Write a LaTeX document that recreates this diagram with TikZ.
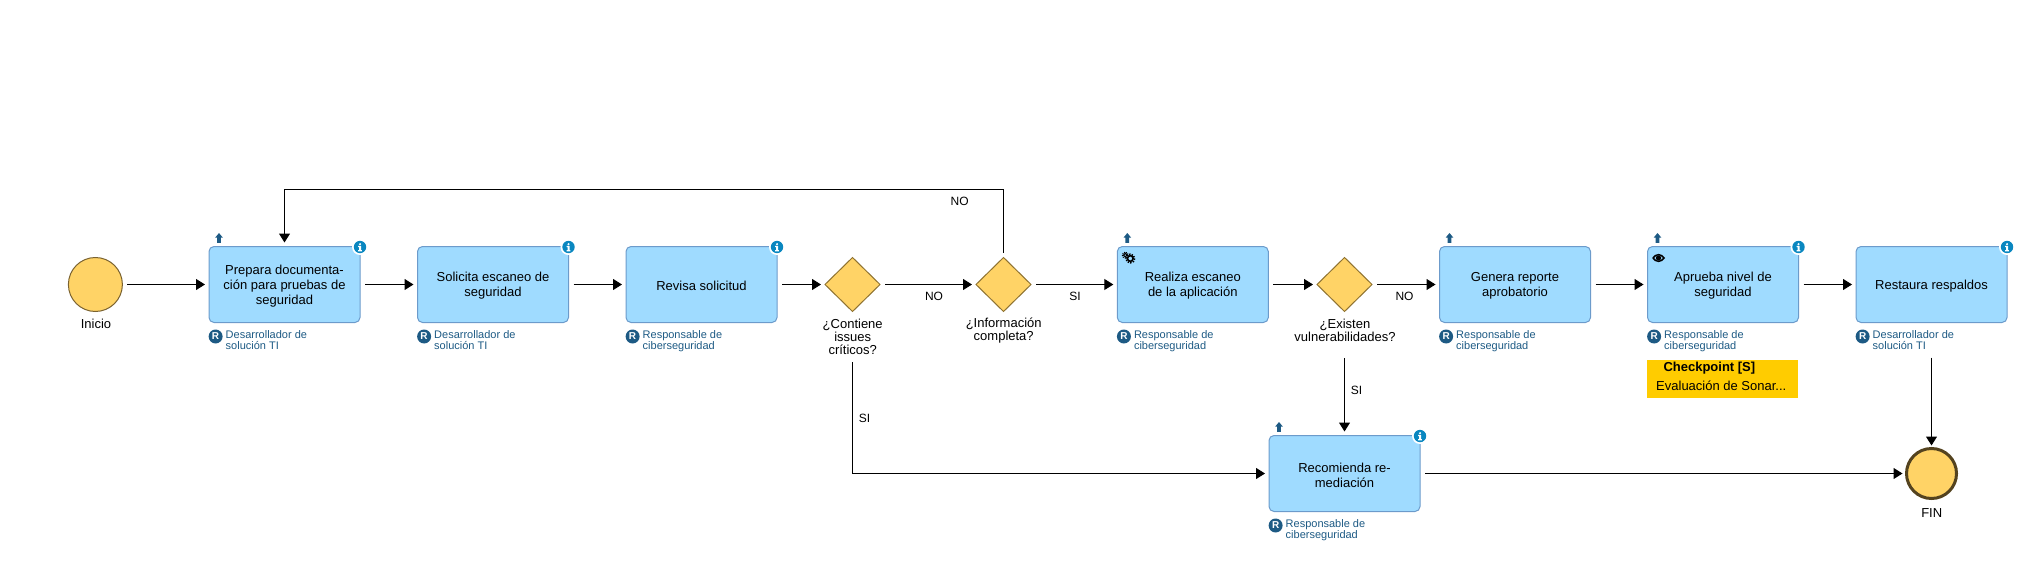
\documentclass[tikz,border=0pt]{standalone}
\usepackage{fontspec}
\setmainfont{Liberation Sans}
\usetikzlibrary{arrows.meta,shapes.geometric,calc}
\definecolor{taskfill}{HTML}{9FDBFF}
\definecolor{taskline}{HTML}{6C9BCB}
\definecolor{evfill}{HTML}{FFD366}
\definecolor{evline}{HTML}{7A6230}
\definecolor{endline}{HTML}{54431F}
\definecolor{gwline}{HTML}{8F7230}
\definecolor{rolecol}{HTML}{1D5A84}
\definecolor{infocol}{HTML}{0A87C0}
\definecolor{cpfill}{HTML}{FFCC00}
\tikzset{
  task/.style={draw=taskline,fill=taskfill,line width=1pt,rounded corners=5pt,minimum width=151pt,minimum height=76pt,inner sep=0pt,outer sep=0pt,
    label={[tasktext]center:#1}},
  tasktext/.style={align=center,inner sep=0pt,yshift=-1.4pt,font=\fontsize{13}{15}\selectfont,text=black},
  gateway/.style={diamond,draw=gwline,fill=evfill,line width=1pt,minimum width=55pt,minimum height=54pt,aspect=1,inner sep=0pt,outer sep=0pt},
  startev/.style={circle,draw=evline,fill=evfill,line width=1pt,minimum size=54pt,inner sep=0pt,outer sep=0pt},
  endev/.style={circle,draw=endline,fill=evfill,line width=3pt,minimum size=50pt,inner sep=0pt,outer sep=0pt},
  caption/.style={align=center,inner sep=0pt,font=\fontsize{13}{13}\selectfont,text=black},
  flowlabel/.style={inner sep=0pt,font=\fontsize{12}{14}\selectfont,text=black},
  rolelabel/.style={anchor=north west,align=left,inner sep=0pt,font=\fontsize{11}{11}\selectfont,text=rolecol},
  flow/.style={draw=black,line width=1pt,-{Triangle[length=9pt,width=11pt]},shorten >=4pt,shorten <=5pt},
  cptitle/.style={anchor=west,inner sep=0pt,font=\fontsize{13}{15}\bfseries\selectfont,text=black},
  cptext/.style={anchor=west,inner sep=0pt,font=\fontsize{13}{15}\selectfont,text=black}
}
\newcommand{\RoleOf}[2]{%
  \fill[rolecol] ($(#1.south west)+(6.6,14)$) circle (7);
  \node[inner sep=0pt,text=white,font=\fontsize{10}{10}\bfseries\selectfont] at ($(#1.south west)+(6.6,14)$) {R};
  \node[rolelabel] at ($(#1.south west)+(16.5,8)$) {#2};
}
\newcommand{\InfoOf}[1]{%
  \fill[white] ($(#1.north east)+(0,0.5)$) circle (8);
  \fill[infocol] ($(#1.north east)+(0,0.5)$) circle (6.2);
  \fill[white] ($(#1.north east)+(0,-2.3)$) circle (1.2);
  \fill[white] ($(#1.north east)+(-1.8,-0.6)$) -- ++(2.9,0) -- ++(0,4.2) -- ++(0.8,0) -- ++(0,1.2) -- ++(-3.9,0) -- ++(0,-1.2) -- ++(1,0) -- ++(0,-3) -- ++(-0.8,0) -- cycle;
}
\newcommand{\UpOf}[1]{%
  \fill[rolecol] ($(#1.north west)+(10,-13.5)$) -- ++(3.8,4.6) -- ++(-1.9,0) -- ++(0,5.2) -- ++(-3.8,0) -- ++(0,-5.2) -- ++(-1.9,0) -- cycle;
}
\begin{document}
\begin{tikzpicture}[x=1pt,y=-1pt]
\useasboundingbox (0,0) rectangle (2044,572);
% nodes
\node[startev] (start) at (95.4,284.5) {};
\node[caption] (lstart) at (96,323.7) {Inicio};
\node[task={Prepara documenta-\\ción para pruebas de\\seguridad}] (t1) at (284.5,284.5) {};
\node[task={Solicita escaneo de\\seguridad}] (t2) at (493,284.5) {};
\node[task={Revisa solicitud}] (t3) at (701.5,284.5) {};
\node[gateway] (d1) at (852.5,284.5) {};
\node[caption] (ld1) at (852.7,336.8) {¿Contiene\\issues\\críticos?};
\node[gateway] (d2) at (1003.5,284.5) {};
\node[caption] (ld2) at (1003.7,330.2) {¿Información\\completa?};
\node[task={Realiza escaneo\\de la aplicación}] (t4) at (1192.8,284.5) {};
\node[gateway] (d3) at (1344.5,284.5) {};
\node[caption] (ld3) at (1345,330.2) {¿Existen\\vulnerabilidades?};
\node[task={Genera reporte\\aprobatorio}] (t5) at (1515,284.5) {};
\node[task={Aprueba nivel de\\seguridad}] (t6) at (1723,284.5) {};
\node[task={Restaura respaldos}] (t7) at (1931.5,284.5) {};
\node[task={Recomienda re-\\mediación}] (rem) at (1344.5,473.5) {};
\node[endev] (fin) at (1931.5,473.5) {};
\node[caption] (lfin) at (1931.7,513) {FIN};
% connectors
\coordinate (loopR) at (1003.5,189.5);
\coordinate (loopL) at (284.5,189.5);
\draw[flow] (start) -- (t1);
\draw[flow] (t1) -- (t2);
\draw[flow] (t2) -- (t3);
\draw[flow] (t3) -- (d1);
\draw[flow] (d1) -- (d2);
\draw[flow] (d2) -- (t4);
\draw[flow] (t4) -- (d3);
\draw[flow] (d3) -- (t5);
\draw[flow] (t5) -- (t6);
\draw[flow] (t6) -- (t7);
\draw[flow] (d2.north) -- (loopR) -- (loopL) -- (t1.north);
\draw[flow,shorten <=50.5pt] (d1.south) |- (rem.west);
\draw[flow,shorten <=46.5pt] (d3.south) -- (rem.north);
\draw[flow] (rem) -- (fin);
\draw[flow,shorten <=35pt,shorten >=3pt] (t7.south) -- (fin.north);
% flow labels
\node[flowlabel] (nA) at (959.6,201.7) {NO};
\node[flowlabel] (nB) at (934,296.7) {NO};
\node[flowlabel] (sA) at (1075,296.7) {SI};
\node[flowlabel] (nC) at (1404.5,296.7) {NO};
\node[flowlabel] (sB) at (864.5,418) {SI};
\node[flowlabel] (sC) at (1356.5,390.5) {SI};
% roles
\RoleOf{t1}{Desarrollador de\\solución TI}
\RoleOf{t2}{Desarrollador de\\solución TI}
\RoleOf{t3}{Responsable de\\ciberseguridad}
\RoleOf{t4}{Responsable de\\ciberseguridad}
\RoleOf{t5}{Responsable de\\ciberseguridad}
\RoleOf{t6}{Responsable de\\ciberseguridad}
\RoleOf{t7}{Desarrollador de\\solución TI}
\RoleOf{rem}{Responsable de\\ciberseguridad}
% info badges
\InfoOf{t1}\InfoOf{t2}\InfoOf{t3}\InfoOf{t6}\InfoOf{t7}\InfoOf{rem}
% up icons
\UpOf{t1}\UpOf{t4}\UpOf{t5}\UpOf{t6}\UpOf{rem}
% gears
\draw[black,line width=1.1pt,fill=taskfill] ($(t4.north west)+(8,8.6)$) circle (1.8);
\draw[black,line width=1.1pt,dash pattern=on 1pt off 1pt] ($(t4.north west)+(8,8.6)$) circle (2.9);
\draw[black,line width=1.6pt,fill=taskfill] ($(t4.north west)+(13,12)$) circle (2.8);
\draw[black,line width=1.5pt,dash pattern=on 1.4pt off 1.3pt] ($(t4.north west)+(13,12)$) circle (4.4);
% eye
\fill[black,even odd rule] ($(t6.north west)+(4.5,11.5)$) .. controls ($(t6.north west)+(8,6)$) and ($(t6.north west)+(14,6)$) .. ($(t6.north west)+(17.5,11.5)$) .. controls ($(t6.north west)+(14,17)$) and ($(t6.north west)+(8,17)$) .. ($(t6.north west)+(4.5,11.5)$) -- cycle
  ($(t6.north west)+(6.5,11.5)$) .. controls ($(t6.north west)+(9,8)$) and ($(t6.north west)+(13,8)$) .. ($(t6.north west)+(15.5,11.5)$) .. controls ($(t6.north west)+(13,15)$) and ($(t6.north west)+(9,15)$) .. ($(t6.north west)+(6.5,11.5)$) -- cycle;
\fill[black] ($(t6.north west)+(11,11.5)$) circle (2.7);
% checkpoint
\node[draw=none,fill=cpfill,minimum width=151pt,minimum height=37.5pt,inner sep=0pt,anchor=north west] (cp) at (1647,360) {};
\node[cptitle] (cpt) at (1663.3,368.5) {Checkpoint [S]};
\node[cptext] (cpd) at (1656,385.7) {Evaluación de Sonar...};
\end{tikzpicture}
\end{document}
